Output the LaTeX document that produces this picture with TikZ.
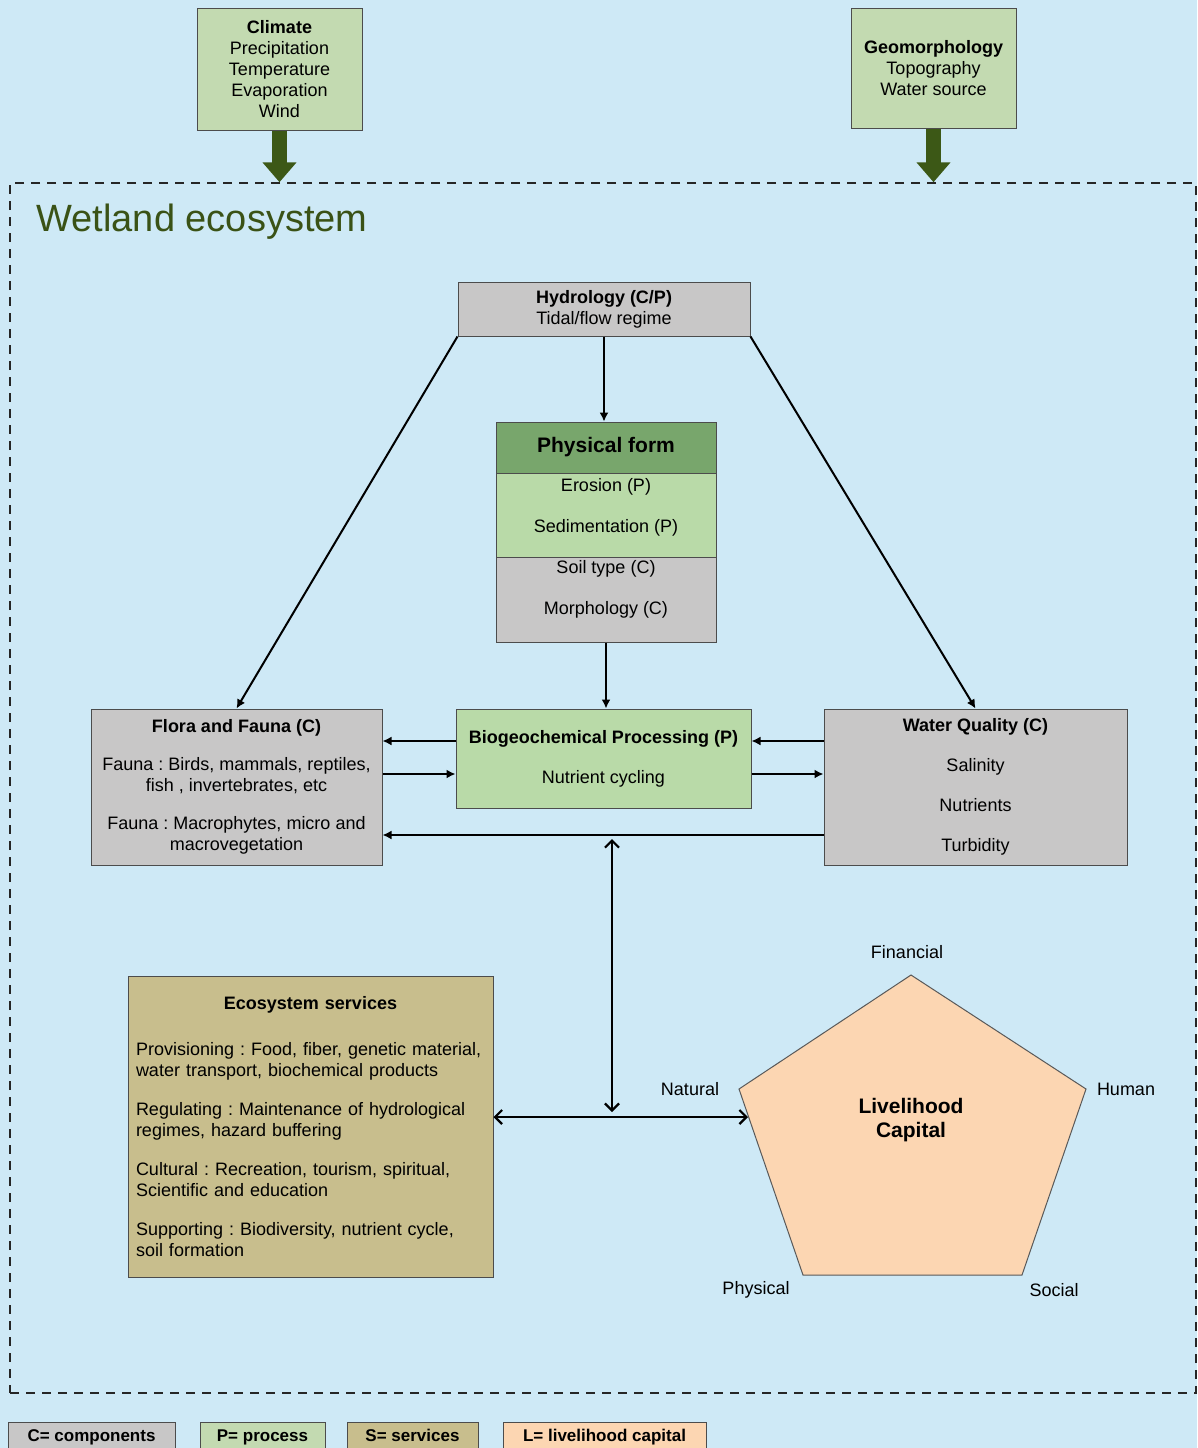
\documentclass[tikz,border=0pt]{standalone}
\usepackage{fontspec}
\setmainfont{Liberation Sans}
\usepackage{tikz}
\usetikzlibrary{calc}
\usetikzlibrary{arrows.meta}
\frenchspacing
\definecolor{bgblue}{RGB}{206,233,246}
\definecolor{compgray}{RGB}{200,199,199}
\definecolor{drivegreen}{RGB}{195,218,177}
\definecolor{headgreen}{RGB}{120,166,108}
\definecolor{procgreen}{RGB}{185,218,168}
\definecolor{servkhaki}{RGB}{200,190,141}
\definecolor{cappeach}{RGB}{252,214,178}
\definecolor{arrowgreen}{RGB}{60,88,22}
\definecolor{titlegreen}{RGB}{58,82,22}
\tikzset{
  box/.style={draw=black!70, line width=1pt, rectangle, align=center, inner sep=0pt},
  compbox/.style={box, fill=compgray},
  procbox/.style={box, fill=procgreen},
  drivebox/.style={box, fill=drivegreen},
  servbox/.style={box, fill=servkhaki},
  legbox/.style={box, minimum height=30pt, text height=13pt, text depth=4pt, font=\fontsize{17}{20}\selectfont\bfseries},
  frame/.style={draw=black!85, line width=1.5pt, dash pattern=on 9pt off 7pt, rectangle},
  fatarrow/.style={draw=arrowgreen, line width=15pt, -{Triangle[length=20pt,width=33pt]}},
  midline/.style={line width=2pt},
  diagline/.style={line width=2pt},
  dbl/.style={line width=2.2pt, >={Straight Barb[length=7pt,width=14pt]}},
  txt/.style={align=center}
}
\begin{document}
\begin{tikzpicture}[x=1pt,y=-1pt,font=\fontsize{18}{21}\selectfont]
    \useasboundingbox (0,0) rectangle (1197,1448);
    \fill[bgblue] (0,0) rectangle (1197,1448);
    \begin{scope}[>={Latex[length=9pt,width=9pt]}] %for filled arrow tips

      % defines
      \pgfmathsetmacro\HydXCoord{(604)} % Hydrology X-Koordinate
      \pgfmathsetmacro\BioYCoord{(758.5)} % Biogeochemical Y-Koordinate
      \pgfmathsetmacro\RowYCoord{(787)} % Flora / Water quality Y-Koordinate

      % draw driver boxes above the wetland
      \node (clim) at (279.5,69) [drivebox, minimum width=165pt, minimum height=122pt] {\textbf{Climate}\\Precipitation\\Temperature\\Evaporation\\Wind};
      \node (geo) at (933.5,68) [drivebox, minimum width=165pt, minimum height=120pt] {\textbf{Geomorphology}\\Topography\\Water source};

      % draw dashed wetland frame and its title
      \node (wet) at (603,788) [frame, minimum width=1186pt, minimum height=1210pt] {};
      \node (wettitle) at (33,222) [anchor=west, text=titlegreen, font=\fontsize{38}{44}\selectfont] {Wetland ecosystem};
      \draw[fatarrow] (clim.south) -- (clim.south |- wet.north);
      \draw[fatarrow] (geo.south) -- (geo.south |- wet.north);

      % draw hydrology and physical form
      \node (hydro) at (\HydXCoord,309) [compbox, minimum width=292pt, minimum height=54pt] {\textbf{Hydrology (C/P)}\\Tidal/flow regime};
      \node (physhead) at (606,447.5) [box, fill=headgreen, minimum width=220pt, minimum height=51pt, font=\fontsize{21}{24}\selectfont\bfseries] {Physical form};
      \node (physproc) at (606,515) [procbox, minimum width=220pt, minimum height=84pt] {};
      \node (physcomp) at (606,599.5) [compbox, minimum width=220pt, minimum height=85pt] {};
      \node (proctext) at (606,507) [txt] {Erosion (P)\\[20pt]Sedimentation (P)};
      \node (comptext) at (606,589) [txt] {Soil type (C)\\[20pt]Morphology (C)};
      \draw[->, line width=1.5pt] (hydro.south) -- (hydro.south |- physhead.north);

      % draw middle row
      \node (bio) at (603.5,\BioYCoord) [procbox, minimum width=295pt, minimum height=99pt] {\textbf{Biogeochemical Processing (P)}\\[19pt]Nutrient cycling};
      \node (flora) at (236.5,\RowYCoord) [compbox, minimum width=291pt, minimum height=156pt] {\textbf{Flora and Fauna (C)}\\[17pt]Fauna : Birds, mammals, reptiles,\\fish , invertebrates, etc\\[17pt]Fauna : Macrophytes, micro and\\macrovegetation};
      \node (wq) at (975.5,\RowYCoord) [compbox, minimum width=303pt, minimum height=156pt] {\textbf{Water Quality (C)}\\[19pt]Salinity\\[19pt]Nutrients\\[19pt]Turbidity};
      \draw[->, midline] (physcomp.south) -- (physcomp.south |- bio.north);
      \draw[->, diagline] (hydro.south west) -- (flora.north);
      \draw[->, diagline] (hydro.south east) -- (wq.north);

      % connection lines between the middle row boxes
      \draw[->, midline] ([yshift=17.5pt]bio.west) -- ([yshift=17.5pt]bio.west -| flora.east);
      \draw[->, midline] ([yshift=-15.5pt]bio.west -| flora.east) -- ([yshift=-15.5pt]bio.west);
      \draw[->, midline] ([yshift=17.5pt]bio.east -| wq.west) -- ([yshift=17.5pt]bio.east);
      \draw[->, midline] ([yshift=-15.5pt]bio.east) -- ([yshift=-15.5pt]bio.east -| wq.west);
      \draw[->, midline] ([yshift=-48pt]wq.west) -- ([yshift=-48pt]wq.west -| flora.east);

      % draw ecosystem services
      \node (serv) at (310.5,1126.5) [servbox, minimum width=365pt, minimum height=301pt, text width=349pt, align=left] {\hfill\textbf{Ecosystem services}\hfill\mbox{}\\[25pt]Provisioning : Food, fiber, genetic material,\\water transport, biochemical products\\[18pt]Regulating : Maintenance of hydrological\\regimes, hazard buffering\\[18pt]Cultural : Recreation, tourism, spiritual,\\Scientific and education\\[18pt]Supporting : Biodiversity, nutrient cycle,\\soil formation};

      % draw livelihood pentagon
      \coordinate (pf) at (911,975);
      \coordinate (ph) at (1086,1089);
      \coordinate (ps) at (1022,1275);
      \coordinate (pp) at (803,1275);
      \coordinate (pn) at (739,1089);
      \draw[fill=cappeach, draw=black!65, line width=1pt] (pf) -- (ph) -- (ps) -- (pp) -- (pn) -- cycle;
      \node (lhc) at (911,1120) [txt, font=\fontsize{21}{24}\selectfont\bfseries] {Livelihood\\Capital};
      \node (lfin) at (907,952) {Financial};
      \node (lhum) at (1126,1089) {Human};
      \node (lnat) at (690,1089) {Natural};
      \node (lphy) at (756,1290) {Physical};
      \node (lsoc) at (1054,1290) {Social};

      % double arrows to services and capital
      \coordinate (natin) at (748,1117);
      \coordinate (vtop) at (612,839);
      \coordinate (vbot) at (612,1112);
      \draw[<->, dbl] (vtop) -- (vbot);
      \draw[<->, dbl] ([yshift=9.5pt]serv.east) -- (natin);

      % legend
      \node (legc) at (91.5,1437) [legbox, fill=compgray, minimum width=167pt] {C= components};
      \node (legp) at (262.5,1437) [legbox, fill=drivegreen, minimum width=125pt] {P= process};
      \node (legs) at (412.5,1437) [legbox, fill=servkhaki, minimum width=131pt] {S= services};
      \node (legl) at (604.5,1437) [legbox, fill=cappeach, minimum width=203pt] {L= livelihood capital};

    \end{scope}
  \end{tikzpicture}
\end{document}
